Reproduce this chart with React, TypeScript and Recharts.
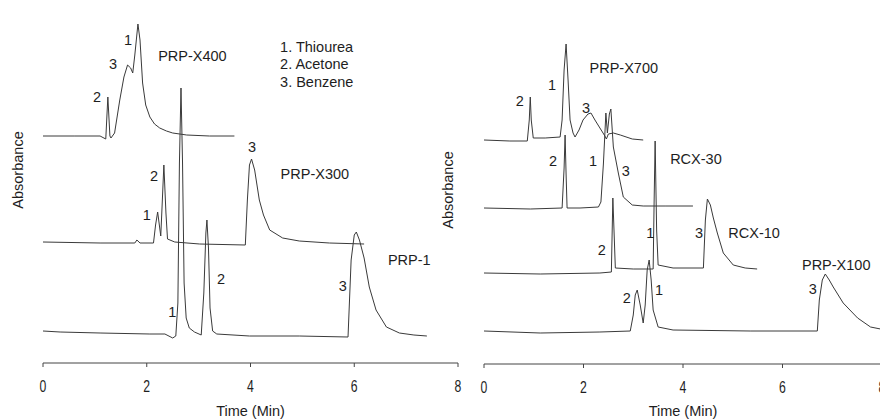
import React from 'react'
import { LineChart, Line, XAxis, YAxis, ReferenceDot } from 'recharts'

type Pt = { t: number; v: number }
type Note = { t: number; v: number; text: string; start?: boolean }

// left panel traces: [time (min), absorbance (arbitrary, stacked)]
const prpX400: [number, number][] = [
  [0, 227], [0.6, 227], [1.1, 227], [1.21, 224], [1.25, 266], [1.29, 227], [1.31, 225],
  [1.38, 230], [1.48, 263], [1.56, 286], [1.63, 298], [1.69, 295], [1.73, 290],
  [1.77, 308], [1.83, 339], [1.87, 323], [1.92, 280], [1.98, 258], [2.06, 246],
  [2.15, 239], [2.25, 235], [2.38, 232], [2.5, 230], [2.77, 228], [3.21, 227], [3.69, 227],
]
const prpX300: [number, number][] = [
  [0, 121], [1.1, 120], [1.77, 120], [1.81, 123], [1.87, 120], [2.13, 120], [2.17, 138],
  [2.21, 151], [2.25, 135], [2.27, 127], [2.29, 150], [2.33, 198], [2.37, 150], [2.4, 124],
  [2.54, 121], [3.02, 119], [3.9, 118], [3.94, 163], [3.98, 198], [4.02, 204], [4.08, 193],
  [4.17, 163], [4.25, 148], [4.37, 133], [4.62, 125], [4.94, 122], [5.52, 120], [6.19, 119],
]
const prp1: [number, number][] = [
  [0, 32], [0.33, 31], [1.1, 30], [2.06, 29], [2.35, 29], [2.5, 25], [2.56, 27], [2.6, 60],
  [2.63, 200], [2.66, 275], [2.69, 200], [2.72, 80], [2.76, 45], [2.82, 35], [2.92, 31],
  [3.05, 28], [3.1, 70], [3.14, 130], [3.16, 143], [3.19, 115], [3.22, 55], [3.27, 32],
  [3.35, 29], [3.98, 27], [4.94, 27], [5.88, 26], [5.94, 103], [6.0, 128], [6.04, 131],
  [6.1, 123], [6.19, 105], [6.29, 76], [6.42, 53], [6.62, 36], [6.87, 30], [7.15, 28], [7.4, 27],
]

// right panel traces
const prpX700: [number, number][] = [
  [0, 224], [0.52, 223], [0.87, 223], [0.91, 244], [0.93, 267], [0.95, 244], [0.99, 226],
  [1.23, 226], [1.53, 227], [1.57, 244], [1.61, 294], [1.65, 320], [1.69, 284], [1.73, 244],
  [1.79, 231], [1.83, 227], [1.91, 234], [1.99, 244], [2.09, 250], [2.15, 251], [2.23, 244],
  [2.33, 236], [2.43, 228], [2.46, 225], [2.5, 230], [2.6, 231], [2.74, 229], [2.98, 225], [3.2, 224],
]
const rcx30: [number, number][] = [
  [0, 156], [0.93, 155], [1.57, 156], [1.61, 196], [1.63, 229], [1.65, 190], [1.67, 156],
  [1.93, 156], [2.3, 157], [2.35, 162], [2.4, 200], [2.45, 251], [2.48, 231], [2.52, 250],
  [2.55, 255], [2.6, 217], [2.7, 191], [2.8, 167], [2.98, 159], [3.2, 158], [3.64, 158], [4.2, 158],
]
const rcx10: [number, number][] = [
  [0, 91], [1.13, 90], [2.33, 91], [2.56, 92], [2.59, 166], [2.62, 124], [2.64, 96], [3.0, 95],
  [3.4, 95], [3.42, 164], [3.44, 223], [3.47, 134], [3.5, 99], [3.8, 96], [4.41, 96],
  [4.45, 144], [4.49, 165], [4.55, 159], [4.61, 146], [4.69, 131], [4.81, 111], [5.01, 99],
  [5.25, 96], [5.49, 95],
]
const prpX100: [number, number][] = [
  [0, 33], [1.13, 31], [2.33, 32], [2.94, 33], [3.0, 49], [3.04, 69], [3.08, 74], [3.14, 59],
  [3.2, 41], [3.24, 59], [3.28, 94], [3.32, 104], [3.36, 84], [3.4, 54], [3.5, 37], [3.8, 34],
  [5.35, 33], [6.7, 33], [6.74, 64], [6.8, 84], [6.86, 90], [6.94, 84], [7.02, 77], [7.22, 61],
  [7.51, 46], [7.77, 37], [7.97, 35],
]

const timeTicks = [0, 2, 4, 6, 8]

const leftNotes: Note[] = [
  { t: 1.64, v: 323, text: '1' }, { t: 1.35, v: 299, text: '3' }, { t: 1.04, v: 266, text: '2' },
  { t: 2.88, v: 307, text: 'PRP-X400' },
  { t: 4.57, v: 316, text: '1. Thiourea', start: true },
  { t: 4.57, v: 299, text: '2. Acetone', start: true },
  { t: 4.57, v: 281, text: '3. Benzene', start: true },
  { t: 4.03, v: 216, text: '3' }, { t: 5.24, v: 189, text: 'PRP-X300' },
  { t: 2.14, v: 187, text: '2' }, { t: 2.0, v: 148, text: '1' },
  { t: 7.06, v: 103, text: 'PRP-1' }, { t: 3.43, v: 84, text: '2' },
  { t: 2.49, v: 51, text: '1' }, { t: 5.78, v: 77, text: '3' },
]
const rightNotes: Note[] = [
  { t: 2.81, v: 296, text: 'PRP-X700' }, { t: 1.37, v: 279, text: '1' },
  { t: 0.72, v: 263, text: '2' }, { t: 2.05, v: 256, text: '3' },
  { t: 4.26, v: 205, text: 'RCX-30' }, { t: 1.39, v: 203, text: '2' },
  { t: 2.19, v: 203, text: '1' }, { t: 2.85, v: 193, text: '3' },
  { t: 5.43, v: 131, text: 'RCX-10' }, { t: 4.32, v: 131, text: '3' },
  { t: 3.34, v: 131, text: '1' }, { t: 2.37, v: 114, text: '2' },
  { t: 7.08, v: 99, text: 'PRP-X100' }, { t: 6.61, v: 75, text: '3' },
  { t: 2.87, v: 66, text: '2' }, { t: 3.52, v: 74, text: '1' },
]

const FONT = '"Liberation Sans", Arial, sans-serif'
const INK = '#1e1e1e'
const LINE = '#3a3a3a'

const toPts = (arr: [number, number][]): Pt[] => arr.map(([t, v]) => ({ t, v }))

// condensed digits like the scanned figure
const NarrowTick = (props: any) => {
  const { x, y, payload } = props
  return (
    <text
      transform={`translate(${x},${y + 21}) scale(0.72,1)`}
      textAnchor="middle"
      fontSize={17}
      fontFamily={FONT}
      fill={INK}
    >
      {payload.value}
    </text>
  )
}

function Panel({ traces, notes, width, margin, yMax }: {
  traces: [number, number][][]
  notes: Note[]
  width: number
  margin: { top: number; right: number; left: number; bottom: number }
  yMax: number
}) {
  return (
    <LineChart width={width} height={420} margin={margin}>
      <XAxis
        dataKey="t"
        type="number"
        domain={[0, 8]}
        ticks={timeTicks}
        allowDataOverflow
        height={420 - 364 + (margin.top === 15 ? 1 : 0)}
        stroke="#444"
        tickSize={4}
        tickMargin={4}
        tick={<NarrowTick />}
        label={{ value: 'Time (Min)', position: 'insideBottom', offset: 4, fill: INK, fontSize: 14.5, fontFamily: FONT }}
      />
      <YAxis type="number" domain={[0, yMax]} width={0} tick={false} tickLine={false} stroke="#444" allowDataOverflow />
      {traces.map((tr, i) => (
        <Line
          key={i}
          data={toPts(tr)}
          dataKey="v"
          type="linear"
          dot={false}
          stroke={LINE}
          strokeWidth={1}
          isAnimationActive={false}
        />
      ))}
      {notes.map((n, i) => (
        <ReferenceDot
          key={'n' + i}
          x={n.t}
          y={n.v}
          r={0}
          fill="none"
          stroke="none"
          label={{
            value: n.text,
            position: n.start ? 'right' : 'center',
            offset: 0,
            fill: INK,
            fontSize: 14.5,
            fontFamily: FONT,
          }}
        />
      ))}
    </LineChart>
  )
}

export default function App() {
  return (
    <div style={{ position: 'absolute', left: 0, top: 0, width: 880, height: 420, overflow: 'hidden', background: '#fff' }}>
      <div style={{ position: 'absolute', left: 0, top: 0 }}>
        <Panel
          traces={[prpX400, prpX300, prp1]}
          notes={leftNotes}
          width={470}
          margin={{ top: 15, right: 12, left: 43, bottom: 0 }}
          yMax={348}
        />
      </div>
      <div style={{ position: 'absolute', left: 0, top: 0 }}>
        <Panel
          traces={[prpX700, rcx30, rcx10, prpX100]}
          notes={rightNotes}
          width={900}
          margin={{ top: 10, right: 18, left: 484, bottom: 0 }}
          yMax={354}
        />
      </div>
      <div style={{ position: 'absolute', left: 18, top: 170, transform: 'translate(-50%, -50%) rotate(-90deg)', fontFamily: FONT, fontSize: 14.5, color: INK, whiteSpace: 'nowrap' }}>
        Absorbance
      </div>
      <div style={{ position: 'absolute', left: 448, top: 190, transform: 'translate(-50%, -50%) rotate(-90deg)', fontFamily: FONT, fontSize: 14.5, color: INK, whiteSpace: 'nowrap' }}>
        Absorbance
      </div>
    </div>
  )
}
